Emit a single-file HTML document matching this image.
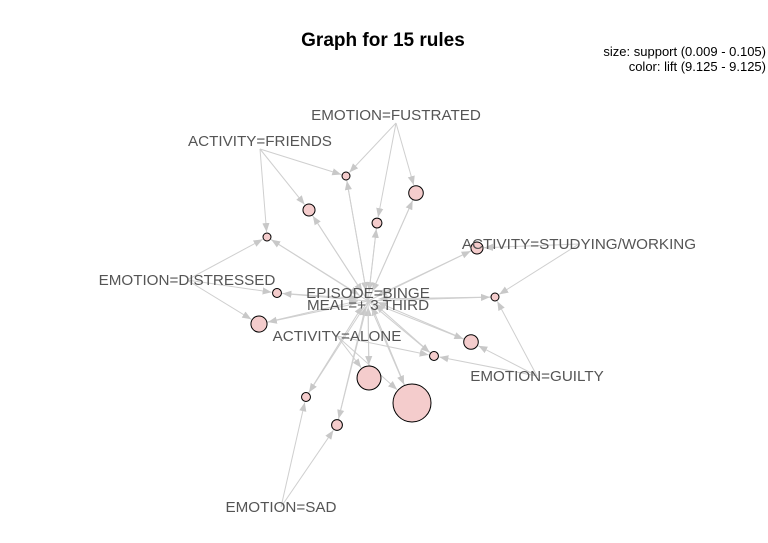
<!DOCTYPE html>
<html><head><meta charset="utf-8"><style>
body{margin:0;background:#fff;}
svg{display:block;font-family:"Liberation Sans",Arial,sans-serif;}
</style></head><body>
<svg id="chart" width="768" height="543" viewBox="0 0 768 543">
<defs><marker id="arr" viewBox="0 0 10 10" refX="10" refY="5" markerWidth="9" markerHeight="9" markerUnits="userSpaceOnUse" orient="auto"><path d="M0,1 L10,5 L0,9 z" fill="#c8c8c8"/></marker></defs>
<text x="383" y="46" text-anchor="middle" font-size="19" font-weight="bold" fill="#000">Graph for 15 rules</text>
<text x="766" y="56" text-anchor="end" font-size="13" fill="#000">size: support (0.009 - 0.105)</text>
<text x="766" y="71" text-anchor="end" font-size="13" fill="#000">color: lift (9.125 - 9.125)</text>
<g id="edges"></g><g id="nodes"></g><g id="labels"></g>
</svg>
<script>
const itemNames=["EMOTION=FUSTRATED","ACTIVITY=FRIENDS","ACTIVITY=STUDYING/WORKING","EMOTION=DISTRESSED","EPISODE=BINGE","MEAL=+_3 THIRD","ACTIVITY=ALONE","EMOTION=GUILTY","EMOTION=SAD"];
const itemX=[396,260,579,187,368,368,337,537,281];
const itemY=[115,141,244,280,293,305,336,376,507];
const ruleX=[346,416,309,377,267,477,277,495,259,471,434,369,412,306,337];
const ruleY=[176,193,210,223,237,248,293,297,324,342,356,378,403,397,425];
const ruleSupport=[0.009,0.03,0.022,0.015,0.009,0.022,0.012,0.009,0.035,0.03,0.012,0.06,0.105,0.012,0.018];
const ruleLhs=[[0,1],[0],[1],[0],[1,3],[2],[3],[2,7],[3],[7],[7,6],[6],[6],[8],[8]];
const NS="http://www.w3.org/2000/svg";
const rScale=s=>4+15*(s-0.009)/(0.105-0.009);
const eg=document.getElementById('edges'),ng=document.getElementById('nodes'),lg=document.getElementById('labels');
function line(x1,y1,x2,y2,trim){
  const dx=x2-x1,dy=y2-y1,d=Math.hypot(dx,dy);
  const l=document.createElementNS(NS,'line');
  l.setAttribute('x1',x1);l.setAttribute('y1',y1);
  l.setAttribute('x2',x2-dx/d*trim);l.setAttribute('y2',y2-dy/d*trim);
  l.setAttribute('stroke','#cfcfcf');l.setAttribute('stroke-width','1');
  l.setAttribute('marker-end','url(#arr)');
  
  
  eg.appendChild(l);
}
ruleX.forEach((x,i)=>{
  const y=ruleY[i],r=rScale(ruleSupport[i]);
  ruleLhs[i].forEach(k=>line(itemX[k],itemY[k]+(k===0||k===1?8:0),x,y,r+1));
  line(x,y,itemX[4]+(x-itemX[4])*0.02,itemY[4]+6,8);
  line(itemX[5],itemY[5]-4,x,y,r+1);
});
ruleX.forEach((x,i)=>{
  const c=document.createElementNS(NS,'circle');
  c.setAttribute('cx',x);c.setAttribute('cy',ruleY[i]);
  c.setAttribute('r',rScale(ruleSupport[i]));
  c.setAttribute('fill','#f4cccc');c.setAttribute('stroke','#000');c.setAttribute('stroke-width','1');
  
  
  ng.appendChild(c);
});
itemNames.forEach((n,i)=>{
  const t=document.createElementNS(NS,'text');
  t.setAttribute('x',itemX[i]);t.setAttribute('y',itemY[i]+5);
  t.setAttribute('text-anchor','middle');t.setAttribute('font-size','15.2');t.setAttribute('fill','#555');
  t.textContent=n.replace('_',' ');
  
  
  lg.appendChild(t);
});
</script>
</body></html>
